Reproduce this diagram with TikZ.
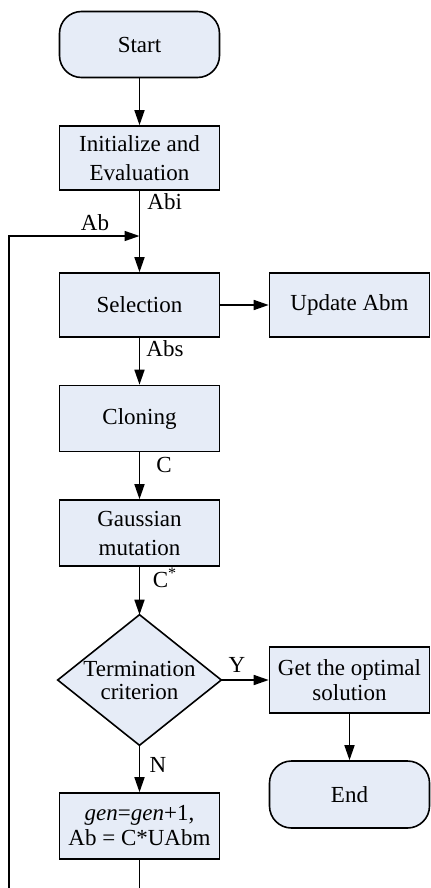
\documentclass[tikz,border=0pt]{standalone}
\usepackage{fontspec}
\setmainfont{Liberation Serif}
\usetikzlibrary{arrows.meta}

\definecolor{boxfill}{RGB}{230,236,247}

\tikzset{
  every picture/.style={x=0.5pt,y=-0.5pt},
  procbox/.style={draw,fill=boxfill,line width=0.8pt,minimum width=80pt,minimum height=32pt,align=center,inner sep=1pt},
  termbox/.style={procbox,rounded corners=11pt,minimum height=33pt},
  decbox/.style={draw,fill=boxfill,line width=0.8pt,align=center,inner sep=0pt,
    minimum width=81pt,minimum height=64.5pt},
  flow/.style={line width=0.8pt,-{Triangle[length=7.5pt,width=5pt]}},
  lbl/.style={inner sep=0pt},
  tight/.style={font=\fontsize{11.5}{12.5}\selectfont}
}

\begin{document}
\begin{tikzpicture}[font=\fontsize{11.5}{14.5}\selectfont]
\useasboundingbox (0,0) rectangle (431,888);

\node[termbox] (start) at (139.5,44.5) {Start};
\node[procbox] (init) at (139.5,158) {Initialize and\\Evaluation};
\node[procbox] (sel) at (139.5,305) {Selection};
\node[procbox] (upd) at (349.5,305) {Update Abm};
\node[procbox,minimum height=33pt] (clone) at (139.5,418.5) {Cloning};
\node[procbox,minimum height=33pt] (gauss) at (139.5,533) {Gaussian\\mutation};
% diamond drawn by hand
\node[decbox,draw=none,fill=none] (term) at (139.5,680) {};
\filldraw[fill=boxfill,line width=0.8pt] (term.north) -- (term.east) -- (term.south) -- (term.west) -- cycle;
\node[align=center,font=\fontsize{11.5}{11.5}\selectfont] at (term.center) {Termination\\criterion};
\node[procbox,tight,minimum height=33pt] (opt) at (349.5,680) {Get the optimal\\solution};
\node[termbox,minimum height=33.5pt] (end) at (349.5,794.5) {End};
\node[procbox,tight,minimum height=33pt] (gen) at (139.5,826) {\textit{gen}=\textit{gen}+1,\\Ab = C*UAbm};

\coordinate (merge) at (139.5,236);
\coordinate (loopl) at (9,236);
\coordinate (loopb) at (9,900);

\draw[flow] (start) -- (init);
\draw[line width=0.8pt] (init) -- (merge);
\draw[flow] (merge) -- (sel);
\draw[flow] (sel) -- (upd);
\draw[flow] (sel) -- (clone);
\draw[flow] (clone) -- (gauss);
\draw[flow] (gauss) -- (term.north);
\draw[flow] (term.east) -- (opt);
\draw[flow] (opt) -- (end);
\draw[flow] (term.south) -- (gen);
\draw[flow] (gen.south) |- (loopb) -- (loopl) -- (merge);

\node[lbl,anchor=west] (abi) at (147,202) {Abi};
\node[lbl] (ab) at (95,223) {Ab};
\node[lbl,anchor=west] (abs) at (146,349) {Abs};
\node[lbl] (c) at (164,465) {C};
\node[lbl] (cstar) at (165,578) {C\textsuperscript{*}};
\node[lbl] (y) at (237,665) {Y};
\node[lbl] (n) at (158,765) {N};
\end{tikzpicture}
\end{document}
